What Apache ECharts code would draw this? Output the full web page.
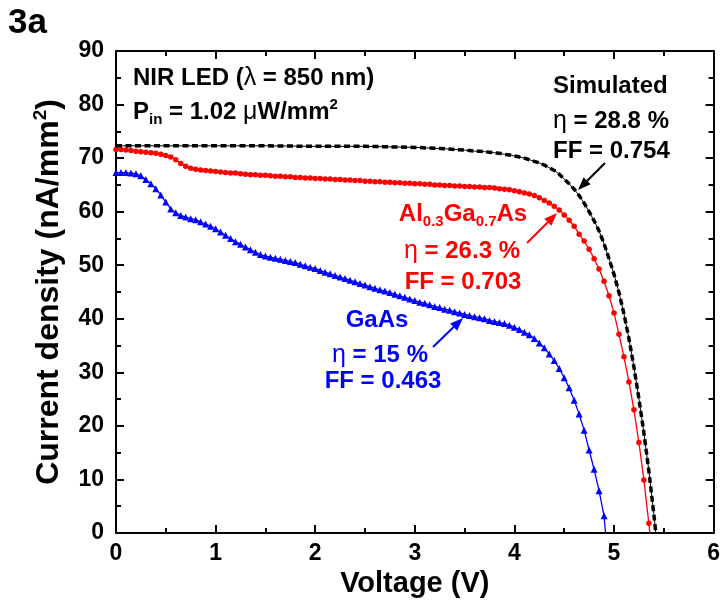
<!DOCTYPE html>
<html>
<head>
<meta charset="utf-8">
<script src="https://cdn.jsdelivr.net/npm/echarts@6/dist/echarts.min.js"></script>
<style>
html,body{margin:0;padding:0;background:#fff;}
#c{width:723px;height:608px;}
</style>
</head>
<body>
<div id="c"></div>
<script>
// ---- Data ----
const xTicks = [0, 1, 2, 3, 4, 5, 6];
const yTicks = [0, 10, 20, 30, 40, 50, 60, 70, 80, 90];

// Simulated (black dashed)
const vSim = [0, 0.5, 1, 1.5, 2, 2.5, 3, 3.25, 3.5, 3.55, 3.6, 3.65, 3.7, 3.75, 3.8, 3.85, 3.9, 3.95, 4.0,
  4.05, 4.1, 4.15, 4.2, 4.25, 4.3, 4.35, 4.4, 4.45, 4.5, 4.55, 4.6, 4.65, 4.7, 4.75, 4.8, 4.85, 4.9, 4.95,
  5.0, 5.05, 5.1, 5.15, 5.2, 5.25, 5.3, 5.35, 5.4, 5.42];
const jSim = [72.3, 72.3, 72.3, 72.3, 72.2, 72.2, 72.0, 71.8, 71.5, 71.4, 71.3, 71.3, 71.2, 71.1, 71.0, 70.9, 70.7, 70.6, 70.4,
  70.2, 70.0, 69.7, 69.4, 69.1, 68.7, 68.2, 67.7, 67.0, 66.1, 65.2, 64.2, 63.0, 61.6, 60.0, 58.3, 56.4, 54.0, 51.2,
  48.3, 44.9, 40.9, 36.3, 31.0, 25.1, 18.7, 11.6, 3.5, 0];

// Al0.3Ga0.7As (red, circles)
const vAlGaAs = [0.00,0.05,0.10,0.15,0.20,0.25,0.30,0.35,0.40,0.45,0.50,0.55,0.60,0.65,0.70,0.75,0.80,0.85,0.90,0.95,
  1.00,1.05,1.10,1.15,1.20,1.25,1.30,1.35,1.40,1.45,1.50,1.55,1.60,1.65,1.70,1.75,1.80,1.85,1.90,1.95,
  2.00,2.05,2.10,2.15,2.20,2.25,2.30,2.35,2.40,2.45,2.50,2.55,2.60,2.65,2.70,2.75,2.80,2.85,2.90,2.95,
  3.00,3.05,3.10,3.15,3.20,3.25,3.30,3.35,3.40,3.45,3.50,3.55,3.60,3.65,3.70,3.75,3.80,3.85,3.90,3.95,
  4.00,4.05,4.10,4.15,4.20,4.25,4.30,4.35,4.40,4.45,4.50,4.55,4.60,4.65,4.70,4.75,4.80,4.85,4.90,4.95,
  5.00,5.05,5.10,5.15,5.20,5.25,5.30,5.35,5.36];
const jAlGaAs = [71.6,71.6,71.5,71.4,71.3,71.2,71.1,71.0,70.9,70.7,70.5,70.2,69.7,69.0,68.5,68.1,67.9,67.8,67.7,67.6,
  67.5,67.4,67.3,67.2,67.2,67.1,67.0,66.9,66.9,66.8,66.8,66.7,66.6,66.6,66.5,66.5,66.4,66.4,66.3,66.3,
  66.2,66.2,66.1,66.1,66.0,66.0,65.9,65.9,65.8,65.8,65.7,65.7,65.6,65.6,65.5,65.5,65.4,65.4,65.3,65.3,
  65.2,65.2,65.1,65.1,65.0,65.0,64.9,64.9,64.8,64.8,64.7,64.7,64.6,64.6,64.5,64.5,64.4,64.3,64.2,64.1,
  63.9,63.7,63.5,63.3,63.0,62.6,62.1,61.6,61.0,60.3,59.4,58.4,57.3,55.8,54.5,53.0,51.2,49.3,47.0,44.3,
  41.1,37.1,32.9,28.2,23.0,16.9,9.9,1.8,0];

// GaAs (blue, triangles)
const vGaAs = [0.00,0.05,0.10,0.15,0.20,0.25,0.30,0.35,0.40,0.45,0.50,0.55,0.60,0.65,0.70,0.75,0.80,0.85,0.90,0.95,
  1.00,1.05,1.10,1.15,1.20,1.25,1.30,1.35,1.40,1.45,1.50,1.55,1.60,1.65,1.70,1.75,1.80,1.85,1.90,1.95,
  2.00,2.05,2.10,2.15,2.20,2.25,2.30,2.35,2.40,2.45,2.50,2.55,2.60,2.65,2.70,2.75,2.80,2.85,2.90,2.95,
  3.00,3.05,3.10,3.15,3.20,3.25,3.30,3.35,3.40,3.45,3.50,3.55,3.60,3.65,3.70,3.75,3.80,3.85,3.90,3.95,
  4.00,4.05,4.10,4.15,4.20,4.25,4.30,4.35,4.40,4.45,4.50,4.55,4.60,4.65,4.70,4.75,4.80,4.85,4.90,4.915];
const jGaAs = [67.3,67.3,67.3,67.2,67.1,66.7,66.0,65.2,64.3,63.1,61.8,60.5,59.8,59.3,59.0,58.7,58.5,58.1,57.7,57.3,
  56.8,56.2,55.6,55.0,54.4,53.9,53.4,52.9,52.4,52.0,51.7,51.5,51.3,51.1,50.9,50.7,50.5,50.2,49.9,49.6,
  49.4,49.0,48.7,48.4,48.1,47.8,47.5,47.2,46.9,46.6,46.3,46.0,45.7,45.4,45.2,44.9,44.6,44.3,44.0,43.7,
  43.4,43.1,42.9,42.6,42.3,42.1,41.8,41.6,41.3,41.1,40.8,40.6,40.4,40.2,40.0,39.7,39.5,39.3,39.1,38.8,
  38.4,38.0,37.5,37.0,36.3,35.5,34.6,33.4,32.2,30.7,29.0,27.1,24.8,22.2,19.2,15.5,11.9,7.9,3.2,0];

// ---- Chart ----
const FONT = '"Liberation Sans", Arial, Helvetica, sans-serif';
const chart = echarts.init(document.getElementById('c'), null, {renderer: 'canvas'});

function pairs(vs, js) {
  return vs.map((v, i) => js[i] === 0 ? {value: [v, js[i]], symbol: 'none'} : [v, js[i]]);
}

const axisLineStyle = {color: '#000', width: 2};
function xAx(pos, showLabel) {
  return {
    type: 'value', position: pos, min: xTicks[0], max: xTicks[xTicks.length - 1], interval: 1,
    axisLine: {show: true, onZero: false, lineStyle: axisLineStyle},
    axisTick: {show: true, inside: true, length: 8, lineStyle: {color: '#000', width: 2}},
    minorTick: {show: true, splitNumber: 2, length: 5, lineStyle: {color: '#000', width: 2}},
    splitLine: {show: false}, minorSplitLine: {show: false},
    axisLabel: {show: showLabel, color: '#000', fontFamily: FONT, fontWeight: 'bold', fontSize: 23, margin: 9},
    name: showLabel ? 'Voltage (V)' : '', nameLocation: 'middle', nameGap: 34,
    nameTextStyle: {color: '#000', fontFamily: FONT, fontWeight: 'bold', fontSize: 29}
  };
}
function yAx(pos, showLabel) {
  return {
    type: 'value', position: pos, min: yTicks[0], max: yTicks[yTicks.length - 1], interval: 10,
    axisLine: {show: true, onZero: false, lineStyle: axisLineStyle},
    axisTick: {show: true, inside: true, length: 8, lineStyle: {color: '#000', width: 2}},
    minorTick: {show: true, splitNumber: 2, length: 5, lineStyle: {color: '#000', width: 2}},
    splitLine: {show: false}, minorSplitLine: {show: false},
    axisLabel: {show: showLabel, color: '#000', fontFamily: FONT, fontWeight: 'bold', fontSize: 23, margin: 12},
    name: showLabel ? 'Current density (nA/mm{sup|2})' : '', nameLocation: 'middle', nameGap: 37,
    nameTextStyle: {color: '#000', fontFamily: FONT, fontWeight: 'bold', fontSize: 32, lineHeight: 36,
      rich: {sup: {fontFamily: FONT, fontWeight: 'bold', fontSize: 19, verticalAlign: 'top', lineHeight: 36, color: '#000'}}}
  };
}

function txt(text, x, y, color, align) {
  return {
    type: 'text', x: x, y: y, z: 100,
    style: {
      text: text, fill: color, font: 'bold 24px ' + FONT,
      textAlign: align || 'left', textVerticalAlign: 'middle',
      rich: {
        sub: {font: 'bold 15px ' + FONT, fill: color, verticalAlign: 'bottom', lineHeight: 30},
        sup: {font: 'bold 15px ' + FONT, fill: color, verticalAlign: 'top', lineHeight: 30},
        g: {font: 'normal 25px ' + FONT, fill: color, lineHeight: 30},
        n: {font: 'bold 24px ' + FONT, fill: color, lineHeight: 30}
      }
    }
  };
}
function arrow(x1, y1, x2, y2, color) {
  const ang = Math.atan2(y2 - y1, x2 - x1);
  const L = 13, W = 5;
  const bx = x2 - L * Math.cos(ang), by = y2 - L * Math.sin(ang);
  const px = -Math.sin(ang) * W, py = Math.cos(ang) * W;
  return [
    {type: 'line', z: 100, shape: {x1: x1, y1: y1, x2: bx, y2: by}, style: {stroke: color, lineWidth: 2}},
    {type: 'polygon', z: 100, shape: {points: [[x2, y2], [bx + px, by + py], [bx - px, by - py]]}, style: {fill: color}}
  ];
}

const graphics = [
  {type: 'text', x: 8, y: 23, z: 100, style: {text: '3a', font: 'bold 35px ' + FONT, fill: '#000', textVerticalAlign: 'middle'}},
  txt('{n|NIR LED (}{g|λ}{n| = 850 nm)}', 133, 78, '#000'),
  txt('{n|P}{sub|in}{n| = 1.02 }{g|μ}{n|W/mm}{sup|2}', 133, 112, '#000'),
  txt('{n|Simulated}', 553, 86, '#000'),
  txt('{g|η}{n| = 28.8 %}', 553, 121, '#000'),
  txt('{n|FF = 0.754}', 553, 151, '#000'),
  txt('{n|Al}{sub|0.3}{n|Ga}{sub|0.7}{n|As}', 463, 214, '#ff0000', 'center'),
  txt('{g|η}{n| = 26.3 %}', 462, 251, '#ff0000', 'center'),
  txt('{n|FF = 0.703}', 463, 282, '#ff0000', 'center'),
  txt('{n|GaAs}', 377, 320, '#0000ff', 'center'),
  txt('{g|η}{n| = 15 %}', 380, 355, '#0000ff', 'center'),
  txt('{n|FF = 0.463}', 383, 381, '#0000ff', 'center')
].concat(arrow(605, 163, 578, 190, '#000'))
 .concat(arrow(527, 243, 557, 213, '#ff0000'))
 .concat(arrow(433, 347, 463, 318, '#0000ff'));

const option = {
  backgroundColor: '#fff',
  animation: false,
  grid: {left: 116, right: 9, top: 51, bottom: 75, containLabel: false},
  xAxis: [xAx('bottom', true), xAx('top', false)],
  yAxis: [yAx('left', true), yAx('right', false)],
  graphic: graphics,
  series: [
    {
      name: 'GaAs', type: 'line', data: pairs(vGaAs, jGaAs), xAxisIndex: 0, yAxisIndex: 0,
      symbol: 'triangle', symbolSize: 7, showSymbol: true,
      lineStyle: {color: '#0000ff', width: 1.3}, itemStyle: {color: '#0000ff', borderWidth: 0}, z: 3
    },
    {
      name: 'Al0.3Ga0.7As', type: 'line', data: pairs(vAlGaAs, jAlGaAs), xAxisIndex: 0, yAxisIndex: 0,
      symbol: 'circle', symbolSize: 5.5, showSymbol: true,
      lineStyle: {color: '#ff0000', width: 1.3}, itemStyle: {color: '#ff0000', borderWidth: 0}, z: 3
    },
    {
      name: 'Simulated thin', type: 'line', data: pairs(vSim, jSim), xAxisIndex: 0, yAxisIndex: 0,
      symbol: 'none', lineStyle: {color: '#000', width: 1}, z: 4
    },
    {
      name: 'Simulated', type: 'line', data: pairs(vSim, jSim), xAxisIndex: 0, yAxisIndex: 0,
      symbol: 'none', lineStyle: {color: '#000', width: 3.5, type: [6, 3.5]}, z: 5
    }
  ]
};
chart.setOption(option);
</script>
</body>
</html>
